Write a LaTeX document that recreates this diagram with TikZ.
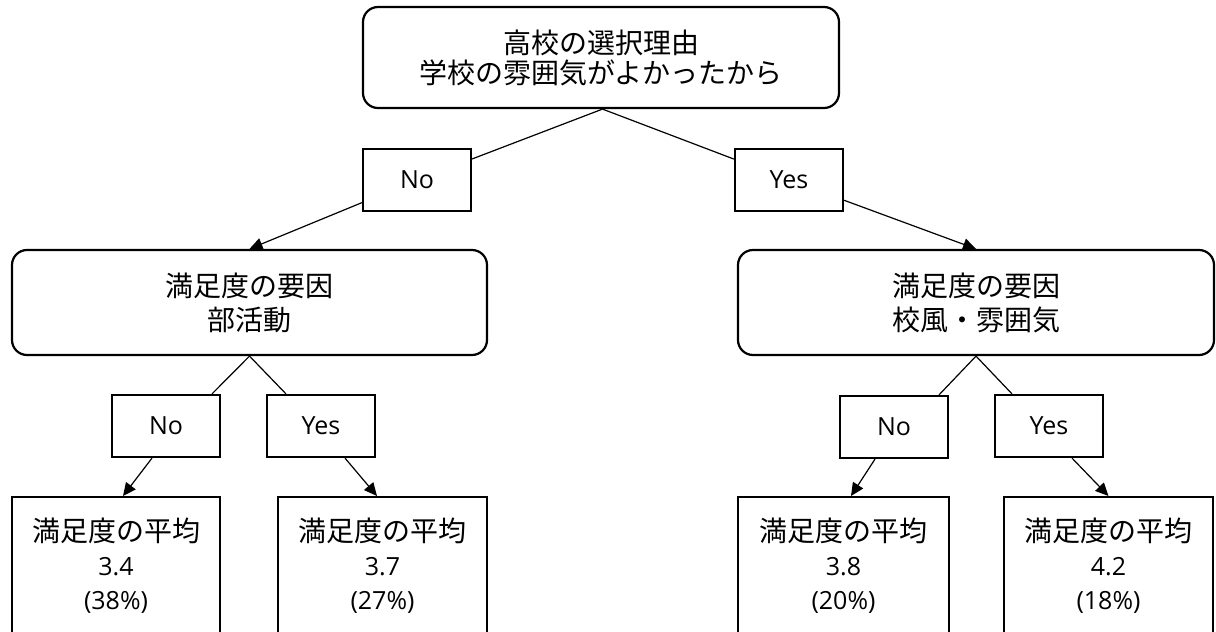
\documentclass[tikz,border=0pt]{standalone}
\usepackage{fontspec}
\setmainfont{Open Sans}
\newfontfamily\jp{Noto Sans CJK JP}
\usetikzlibrary{arrows.meta,calc}
\begin{document}
\begin{tikzpicture}[x=1pt,y=-1pt,
  box/.style={draw=black,line width=2.2pt,inner sep=0pt,align=center,text=black},
  rbox/.style={box,rounded corners=15pt},
  lab/.style={box,minimum width=108pt,minimum height=62pt,font=\fontsize{25}{28}\selectfont},
  leafbox/.style={box,minimum width=209pt,minimum height=170pt,anchor=north},
  leaftext/.style={align=center,inner sep=0pt,font=\fontsize{25}{34}\selectfont},
  conn/.style={draw=black,line width=1.2pt},
  arr/.style={conn,-{Triangle[length=13pt,width=12pt]}}
]
\useasboundingbox (0,0) rectangle (1216,632);
\fill[white] (0,0) rectangle (1216,632);

% top
\node[rbox,minimum width=476pt,minimum height=101pt,font=\fontsize{28}{30}\selectfont] (top) at (601,57.5)
  {{\jp 高校の選択理由}\\{\jp 学校の雰囲気がよかったから}};
\node[lab] (no1) at (417,180) {No};
\node[lab] (yes1) at (789,180) {Yes};

% middle
\node[rbox,minimum width=475pt,minimum height=105pt,font=\fontsize{28}{34}\selectfont] (midL) at (249.5,302.5)
  {{\jp 満足度の要因}\\{\jp 部活動}};
\node[rbox,minimum width=476pt,minimum height=105pt,font=\fontsize{28}{34}\selectfont] (midR) at (976,302.5)
  {{\jp 満足度の要因}\\{\jp 校風・雰囲気}};

% second level labels
\node[lab] (noL) at (166,426) {No};
\node[lab] (yesL) at (321,426) {Yes};
\node[lab] (noR) at (894,427) {No};
\node[lab] (yesR) at (1049,426) {Yes};

% leaves
\node[leafbox,minimum width=208pt] (leaf1) at (116,496) {};
\node[leafbox] (leaf2) at (382.5,496) {};
\node[leafbox,minimum width=211pt] (leaf3) at (843.5,496) {};
\node[leafbox] (leaf4) at (1108.5,496) {};

\node[leaftext] (t1) at ($(leaf1.north)+(0,70)$) {{\fontsize{28}{34}\selectfont\jp 満足度の平均}\\3.4\\(38\%)};
\node[leaftext] (t2) at ($(leaf2.north)+(0,70)$) {{\fontsize{28}{34}\selectfont\jp 満足度の平均}\\3.7\\(27\%)};
\node[leaftext] (t3) at ($(leaf3.north)+(0,70)$) {{\fontsize{28}{34}\selectfont\jp 満足度の平均}\\3.8\\(20\%)};
\node[leaftext] (t4) at ($(leaf4.north)+(0,70)$) {{\fontsize{28}{34}\selectfont\jp 満足度の平均}\\4.2\\(18\%)};

% connectors
\draw[conn] ($(top.south)+(1.5,0)$) -- (no1);
\draw[conn] ($(top.south)+(1.5,0)$) -- (yes1);
\draw[arr] (no1) -- (midL.north);
\draw[arr] (yes1) -- (midR.north);

\draw[conn] (midL.south) -- ($(noL.north)+(46,0)$);
\draw[conn] (midL.south) -- ($(yesL.north)+(-35,0)$);
\draw[conn] (midR.south) -- ($(noR.north)+(45,0)$);
\draw[conn] (midR.south) -- ($(yesR.north)+(-37,0)$);

\draw[arr] ($(noL.south)+(-14,0)$) -- ($(leaf1.north)+(7,0)$);
\draw[arr] ($(yesL.south)+(24,0)$) -- ($(leaf2.north)+(-5.5,0)$);
\draw[arr] ($(noR.south)+(-19,0)$) -- ($(leaf3.north)+(7.5,0)$);
\draw[arr] ($(yesR.south)+(23,0)$) -- ($(leaf4.north)+(0,0)$);
\end{tikzpicture}
\end{document}
